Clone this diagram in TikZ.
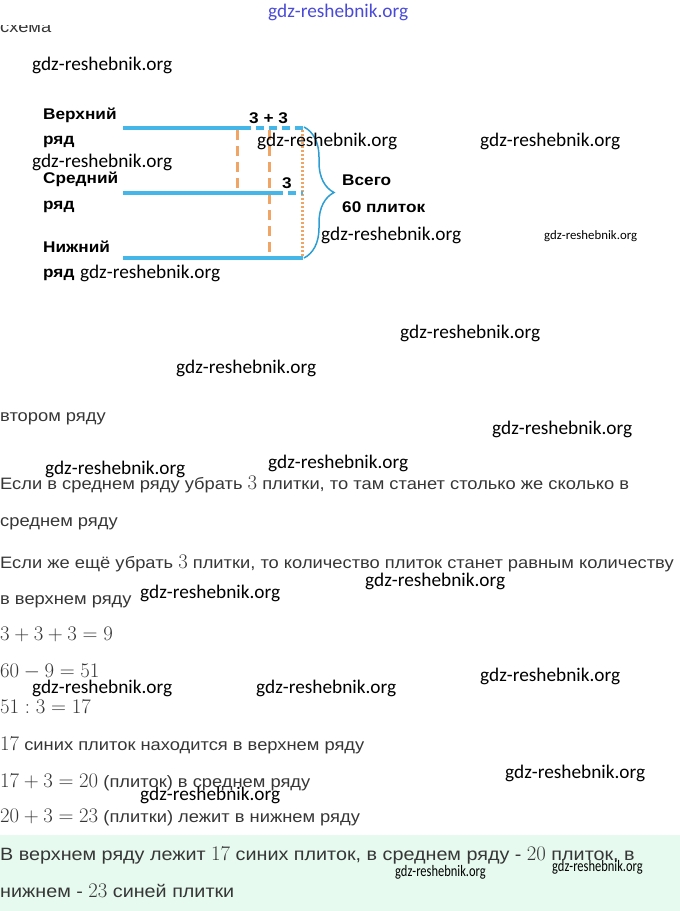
\documentclass[tikz,border=0pt]{standalone}
\usepackage{fontspec}
\setmainfont{Liberation Sans}[FakeStretch=1.11]
\newfontfamily\wmfont{Carlito}
\newfontfamily\wmnarrow{Carlito}[FakeStretch=0.78]
\usepackage{tikz}
\usetikzlibrary{decorations.pathreplacing}

\definecolor{rowblue}{HTML}{45B6E8}
\definecolor{braceblue}{HTML}{2C9ED3}
\definecolor{tileorange}{HTML}{F0A564}
\definecolor{txtgray}{HTML}{363636}
\definecolor{answergreen}{HTML}{E6FAEF}
\definecolor{wmblue}{HTML}{4A4AD8}

\newcommand\mth[1]{{\fontsize{21}{24}\selectfont$#1$}}
\newcommand\mthans[1]{{\fontsize{22.5}{26}\selectfont$#1$}}

\begin{document}
\begin{tikzpicture}[x=1pt,y=-1pt]
  \tikzset{blueline/.style = {rowblue, line width=4pt}}
  \tikzset{bluedash/.style = {rowblue, line width=4pt, dash pattern=on 8pt off 5pt}}
  \tikzset{orangedash/.style = {tileorange, line width=3pt, dash pattern=on 10pt off 6pt}}
  \tikzset{orangedot/.style = {tileorange, line width=3pt, dash pattern=on 2pt off 2pt}}
  \tikzset{bracedraw/.style = {braceblue, line width=1.5pt, decorate, decoration={brace, amplitude=30pt}}}
  \tikzset{lbl/.style = {anchor=base west, inner sep=0pt, font=\fontsize{15.5}{18}\selectfont\bfseries}}
  \tikzset{txt/.style = {anchor=base west, inner sep=0pt, text=txtgray, font=\fontsize{16.5}{20}\selectfont}}
  \tikzset{anstxt/.style = {txt, font=\fontsize{17.8}{21}\selectfont}}
  \tikzset{wm/.style = {anchor=base west, inner sep=0pt, font=\wmfont\fontsize{19.3}{22}\selectfont}}

  \useasboundingbox (0,0) rectangle (680,911);
  \fill[answergreen] (0,835) rectangle (680,911);

  % heading, cut at the top
  \begin{scope}
    \clip (0,25) rectangle (200,40);
    \node[txt] (head) at (0,32) {схема};
  \end{scope}
  \node[wm, text=wmblue] (wmtop) at (268,17) {gdz-reshebnik.org};

  % rows
  \node[lbl] (top1) at (43,119) {Верхний};
  \node[lbl] (top2) at (43,144) {ряд};
  \node[lbl] (mid1) at (43,183) {Средний};
  \node[lbl] (mid2) at (43,209) {ряд};
  \node[lbl] (bot1) at (43,252) {Нижний};
  \node[lbl] (bot2) at (43,277) {ряд};

  \coordinate (T0) at (123,128);
  \coordinate (T1) at (243,128);
  \coordinate (T2) at (303,128);
  \coordinate (M0) at (123,193);
  \coordinate (M1) at (275,193);
  \coordinate (M2) at (303,193);
  \coordinate (B0) at (123,258);
  \coordinate (B2) at (303,258);

  \coordinate (O1) at (237,130);
  \coordinate (O1e) at (237,195);
  \coordinate (O2) at (269,130);
  \coordinate (O2e) at (269,258);
  \coordinate (O3) at (302,130);
  \coordinate (O3e) at (302,258);

  \draw[orangedash] (O1) -- (O1e);
  \draw[orangedash] (O2) -- (O2e);
  \draw[orangedot] (O3) -- (O3e);

  \foreach \from/\to in {T0/T1, M0/M1, B0/B2}
    \draw[blueline] (\from) -- (\to);
  \foreach \from/\to in {T1/T2, M1/M2}
    \draw[bluedash] (\from) -- (\to);

  \node[lbl] (plus) at (249,123) {3 + 3};
  \node[lbl] (three) at (282,188) {3};

  \coordinate (BrT) at (304,127);
  \coordinate (BrB) at (304,258);
  \draw[bracedraw] (BrT) -- (BrB);
  \node[lbl] (all1) at (342,185) {Всего};
  \node[lbl] (all2) at (342,212) {60 плиток};

  % solution
  \node[txt] (s1) at (0,421) {втором ряду};
  \node[txt] (s2) at (0,489) {Если в среднем ряду убрать \mth{3} плитки, то там станет столько же сколько в};
  \node[txt] (s3) at (0,526) {среднем ряду};
  \node[txt] (s4) at (0,568) {Если же ещё убрать \mth{3} плитки, то количество плиток станет равным количеству};
  \node[txt] (s5) at (0,604) {в верхнем ряду};
  \node[txt] (s6) at (0,640) {\mth{3+3+3=9}};
  \node[txt] (s7) at (0,677) {\mth{60-9=51}};
  \node[txt] (s8) at (0,713) {\mth{51:3=17}};
  \node[txt] (s9) at (0,750) {\mth{17} синих плиток находится в верхнем ряду};
  \node[txt] (s10) at (0,787) {\mth{17+3=20} (плиток) в среднем ряду};
  \node[txt] (s11) at (0,822) {\mth{20+3=23} (плитки) лежит в нижнем ряду};
  \node[anstxt] (ans1) at (0,860) {В верхнем ряду лежит \mthans{17} синих плиток, в среднем ряду - \mthans{20} плиток, в};
  \node[anstxt] (ans2) at (0,897) {нижнем - \mthans{23} синей плитки};

  % watermarks
  \foreach \x/\y [count=\i] in {32/70, 32/167, 257/146, 480/146, 321/240, 80/278, 400/338, 176/373,
      492/434, 45/474, 268/468, 140/598, 365/586, 32/693, 256/693, 480/681, 505/778, 140/800}
    \node[wm] (wm\i) at (\x,\y) {gdz-reshebnik.org};
  \node[wm, font=\wmfont\fontsize{12.8}{15}\selectfont] (wms) at (544,239) {gdz-reshebnik.org};
  \foreach \x/\y [count=\i] in {395/876, 552/871}
    \node[wm, font=\wmnarrow\fontsize{16}{18}\selectfont] (wmn\i) at (\x,\y) {gdz-reshebnik.org};
\end{tikzpicture}
\end{document}
